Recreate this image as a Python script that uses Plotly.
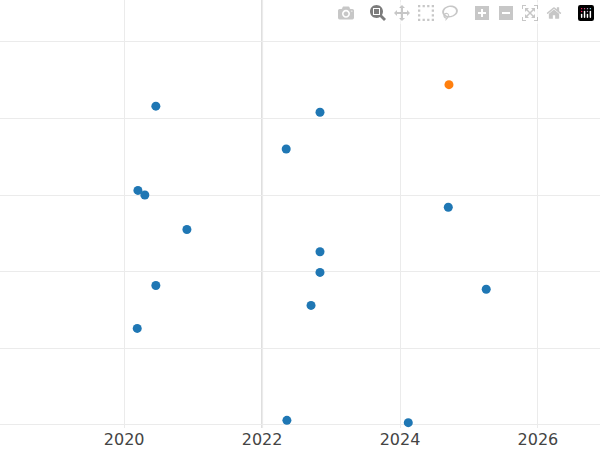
import plotly.graph_objects as go

xs = [2020.46, 2022.84, 2022.35, 2020.20, 2020.30, 2024.70, 2020.91, 2022.84, 2022.84, 2020.46, 2025.25, 2022.71, 2020.19, 2022.36, 2024.12]
ys = [4.16, 4.08, 3.60, 3.06, 3.00, 2.84, 2.55, 2.26, 1.99, 1.82, 1.77, 1.56, 1.26, 0.06, 0.03]
hx = [2024.71]
hy = [4.44]

fig = go.Figure()
fig.add_trace(go.Scatter(x=xs, y=ys, mode="markers", marker=dict(color="#1f77b4", size=9), cliponaxis=True))
fig.add_trace(go.Scatter(x=hx, y=hy, mode="markers", marker=dict(color="#ff7f0e", size=9)))
fig.add_vline(x=2022, line=dict(color="#dddddd", width=2), layer="below")
fig.update_layout(
    width=600, height=450, showlegend=False,
    plot_bgcolor="white", paper_bgcolor="white",
    margin=dict(l=0, r=0, t=0, b=22),
    xaxis=dict(range=[2018.2, 2026.9], tickvals=[2020, 2022, 2024, 2026], showgrid=True,
               gridcolor="#ebebeb", zeroline=False, automargin=False,
               tickfont=dict(family="DejaVu Sans", size=16, color="#444")),
    yaxis=dict(range=[-0.04, 5.545], dtick=1, showticklabels=False, showgrid=True,
               gridcolor="#ebebeb", zeroline=False),
)
fig.write_html("out.html", post_script="document.body.style.margin='0';")
